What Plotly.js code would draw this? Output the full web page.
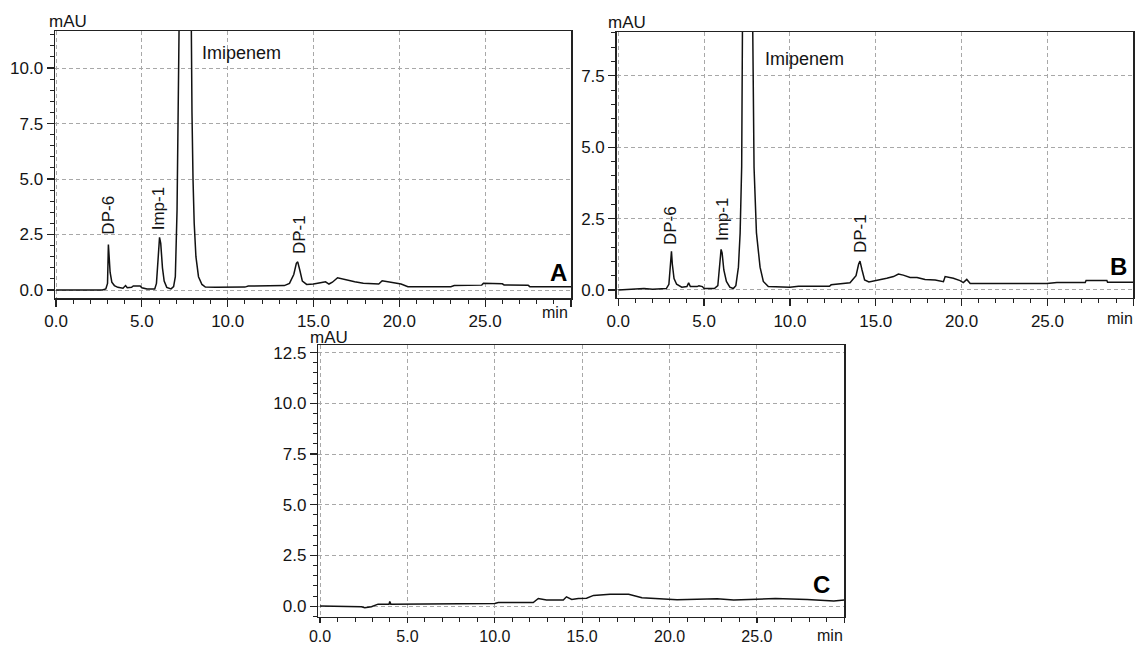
<!DOCTYPE html>
<html>
<head>
<meta charset="utf-8">
<script src="https://cdn.plot.ly/plotly-3.0.1.min.js"></script>
<style>html,body{margin:0;padding:0;background:#fff;}#chart{width:1137px;height:646px;}</style>
</head>
<body>
<div id="chart"></div>
<script>
// ---- Data ----
// Panel A: sample chromatogram
const timeA = [0, 2.7, 2.9, 3.0, 3.05, 3.1, 3.15, 3.25, 3.4, 3.6, 3.9, 4.05, 4.15, 4.4, 4.5, 4.9, 5.0, 5.3, 5.75, 5.85, 5.95, 6.03, 6.1, 6.2, 6.3, 6.45, 6.7, 6.85, 6.95, 7.05, 7.15, 7.25, 7.4, 7.55, 7.7, 7.86, 7.92, 7.98, 8.05, 8.15, 8.3, 8.5, 8.7, 9.3, 11.0, 11.2, 13.3, 13.6, 13.85, 14.0, 14.08, 14.2, 14.35, 14.6, 15.0, 15.4, 15.7, 15.9, 16.1, 16.4, 16.8, 17.0, 17.4, 17.9, 18.8, 19.0, 19.5, 20.1, 20.5, 23.0, 23.2, 24.8, 24.9, 26.0, 26.1, 27.5, 27.6, 30.0];
const signalA = [0.0, 0.0, 0.05, 0.3, 2.05, 1.6, 0.8, 0.35, 0.2, 0.12, 0.08, 0.2, 0.1, 0.12, 0.18, 0.18, 0.1, 0.05, 0.05, 0.3, 1.8, 2.37, 2.1, 1.0, 0.4, 0.12, 0.05, 0.15, 0.6, 3.6, 10.5, 13.0, 30.0, 40.0, 30.0, 12.0, 8.0, 5.0, 3.0, 1.5, 0.6, 0.25, 0.13, 0.12, 0.13, 0.18, 0.2, 0.3, 0.7, 1.2, 1.27, 0.9, 0.4, 0.25, 0.27, 0.33, 0.37, 0.27, 0.35, 0.55, 0.48, 0.42, 0.37, 0.3, 0.27, 0.42, 0.35, 0.27, 0.15, 0.15, 0.2, 0.22, 0.3, 0.28, 0.23, 0.22, 0.15, 0.15];

// Panel B
const timeB = [0, 0.5, 1.5, 2.0, 2.5, 2.8, 2.95, 3.05, 3.1, 3.15, 3.25, 3.4, 3.7, 4.0, 4.1, 4.2, 4.6, 4.7, 4.9, 5.0, 5.6, 5.8, 5.9, 5.99, 6.05, 6.15, 6.3, 6.5, 6.7, 6.85, 7.0, 7.1, 7.19, 7.24, 7.38, 7.53, 7.68, 7.82, 7.91, 8.05, 8.26, 8.45, 8.74, 10.0, 10.5, 12.3, 12.4, 13.5, 13.85, 14.0, 14.08, 14.2, 14.35, 14.6, 15.25, 15.64, 16.03, 16.32, 16.6, 17.0, 17.4, 17.87, 18.46, 18.94, 19.04, 19.52, 19.91, 20.1, 20.3, 20.5, 24.97, 25.55, 27.2, 27.25, 28.46, 28.5, 30.0];
const signalB = [0.0, 0.02, 0.05, 0.03, 0.05, 0.05, 0.2, 1.0, 1.35, 0.9, 0.4, 0.2, 0.1, 0.12, 0.25, 0.12, 0.12, 0.15, 0.12, 0.05, 0.05, 0.15, 0.8, 1.42, 1.3, 0.7, 0.3, 0.1, 0.05, 0.15, 0.8, 2.0, 4.33, 10.0, 25.0, 32.0, 25.0, 10.0, 4.29, 2.0, 0.8, 0.3, 0.12, 0.1, 0.13, 0.13, 0.18, 0.25, 0.5, 0.9, 1.01, 0.7, 0.35, 0.28, 0.35, 0.41, 0.47, 0.56, 0.52, 0.44, 0.44, 0.37, 0.35, 0.29, 0.47, 0.41, 0.33, 0.26, 0.37, 0.23, 0.23, 0.26, 0.26, 0.33, 0.33, 0.27, 0.27];

// Panel C: blank
const timeC = [0, 1.41, 2.37, 2.56, 2.94, 3.32, 3.95, 3.99, 4.05, 10.0, 10.2, 11.34, 12.2, 12.49, 12.96, 13.92, 14.1, 14.4, 14.78, 15.25, 15.65, 16.6, 17.66, 18.42, 20.43, 22.72, 23.67, 26.06, 27.87, 29.4, 30.0];
const signalC = [0.01, 0.0, -0.03, -0.08, -0.03, 0.1, 0.1, 0.23, 0.1, 0.13, 0.18, 0.18, 0.18, 0.38, 0.3, 0.3, 0.46, 0.33, 0.38, 0.39, 0.53, 0.59, 0.59, 0.41, 0.31, 0.36, 0.3, 0.38, 0.33, 0.25, 0.3];

// Tick labels
const xTickVals = [0, 5, 10, 15, 20, 25];
const xTickText = ['0.0', '5.0', '10.0', '15.0', '20.0', '25.0'];
const yTickValsAB = [0, 2.5, 5, 7.5, 10];
const yTickTextAB = ['0.0', '2.5', '5.0', '7.5', '10.0'];
const yTickValsC = [0, 2.5, 5, 7.5, 10, 12.5];
const yTickTextC = ['0.0', '2.5', '5.0', '7.5', '10.0', '12.5'];

// Peak labels
const peakNames = ['DP-6', 'Imp-1', 'DP-1'];
const peakTimesA = [3.05, 5.97, 14.15];
const peakLabelYA = [2.4, 2.6, 1.55];
const peakTimesB = [3.04, 6.07, 14.11];
const peakLabelYB = [1.5, 1.64, 1.22];

const FONT = 'Liberation Sans, Arial, sans-serif';
const TXT = '#141414';

function xAxis(domain, range, anchor, fs, tl) {
  return {
    domain: domain, range: range, anchor: anchor,
    showline: true, mirror: true, linecolor: '#222', linewidth: 1.5,
    ticks: 'outside', ticklen: tl, tickwidth: 1.2, tickcolor: '#222',
    tickvals: xTickVals.concat([30]), ticktext: xTickText.concat(['']),
    tickfont: {family: FONT, size: fs, color: TXT},
    showgrid: true, gridcolor: '#a8a8a8', griddash: '4px,3px', gridwidth: 1,
    zeroline: false,
    minor: {dtick: 1, tick0: 0, ticks: 'outside', ticklen: 4, tickcolor: '#222', tickwidth: 1, showgrid: false},
    fixedrange: true
  };
}
function yAxis(domain, range, anchor, vals, text) {
  return {
    domain: domain, range: range, anchor: anchor,
    showline: true, mirror: true, linecolor: '#222', linewidth: 1.5,
    ticks: 'outside', ticklen: 7, tickwidth: 1.2, tickcolor: '#222',
    tickvals: vals, ticktext: text,
    tickfont: {family: FONT, size: 17, color: TXT},
    showgrid: true, gridcolor: '#a8a8a8', griddash: '4px,3px', gridwidth: 1,
    zeroline: false,
    minor: {dtick: 0.5, tick0: 0, ticks: 'outside', ticklen: 4, tickcolor: '#222', tickwidth: 1, showgrid: false},
    fixedrange: true
  };
}

const line = {color: '#111', width: 1.5};
const traces = [
  {x: timeA, y: signalA, type: 'scatter', mode: 'lines', line: line, xaxis: 'x', yaxis: 'y', hoverinfo: 'skip'},
  {x: timeB, y: signalB, type: 'scatter', mode: 'lines', line: line, xaxis: 'x2', yaxis: 'y2', hoverinfo: 'skip'},
  {x: timeC, y: signalC, type: 'scatter', mode: 'lines', line: line, xaxis: 'x3', yaxis: 'y3', hoverinfo: 'skip'}
];

const W = 1137, H = 646;
function px(x) { return x / W; }
function py(y) { return 1 - y / H; }

const ann = [];
function peakLabels(xref, yref, times, ys) {
  for (let i = 0; i < peakNames.length; i++) {
    ann.push({x: times[i], y: ys[i], xref: xref, yref: yref, text: peakNames[i], textangle: -90,
      showarrow: false, xanchor: 'center', yanchor: 'bottom', font: {family: FONT, size: 17, color: TXT}});
  }
}
peakLabels('x', 'y', peakTimesA, peakLabelYA);
peakLabels('x2', 'y2', peakTimesB, peakLabelYB);
ann.push({x: 8.4, y: 10.68, xref: 'x', yref: 'y', text: 'Imipenem', showarrow: false, xanchor: 'left', yanchor: 'middle', font: {family: FONT, size: 18, color: TXT}});
ann.push({x: 8.41, y: 8.1, xref: 'x2', yref: 'y2', text: 'Imipenem', showarrow: false, xanchor: 'left', yanchor: 'middle', font: {family: FONT, size: 18, color: TXT}});
// axis unit labels
[[68, 22], [627, 22.5], [329, 337]].forEach(p => ann.push({x: px(p[0]), y: py(p[1]), xref: 'paper', yref: 'paper', text: 'mAU', showarrow: false, xanchor: 'center', yanchor: 'middle', font: {family: FONT, size: 17, color: TXT}}));
[[555, 312], [1120, 319], [830, 635]].forEach(p => ann.push({x: px(p[0]), y: py(p[1]), xref: 'paper', yref: 'paper', text: 'min', showarrow: false, xanchor: 'center', yanchor: 'middle', font: {family: FONT, size: 16, color: TXT}}));
// panel letters
[['A', 558, 272.5], ['B', 1118, 266.7], ['C', 821, 584]].forEach(p => ann.push({x: px(p[1]), y: py(p[2]), xref: 'paper', yref: 'paper', text: '<b>' + p[0] + '</b>', showarrow: false, xanchor: 'center', yanchor: 'middle', font: {family: FONT, size: 24, color: '#000'}}));

const layout = {
  width: W, height: H,
  margin: {l: 0, r: 0, t: 0, b: 0},
  paper_bgcolor: '#fff', plot_bgcolor: '#fff',
  showlegend: false,
  xaxis: xAxis([px(55), px(571)], [-0.06, 30.0], 'y', 17, 7),
  yaxis: yAxis([py(298), py(31)], [-0.36, 11.67], 'x', yTickValsAB, yTickTextAB),
  xaxis2: xAxis([px(616.7), px(1133.3)], [-0.09, 30.0], 'y2', 17, 7),
  yaxis2: yAxis([py(297.7), py(32)], [-0.27, 9.03], 'x2', yTickValsAB.slice(0, 4), yTickTextAB.slice(0, 4)),
  xaxis3: xAxis([px(318.3), px(844.3)], [-0.1, 30.0], 'y3', 16, 5),
  yaxis3: yAxis([py(616.7), py(345)], [-0.52, 12.88], 'x3', yTickValsC, yTickTextC),
  annotations: ann
};

Plotly.newPlot('chart', traces, layout, {staticPlot: true, displayModeBar: false});
</script>
</body>
</html>
